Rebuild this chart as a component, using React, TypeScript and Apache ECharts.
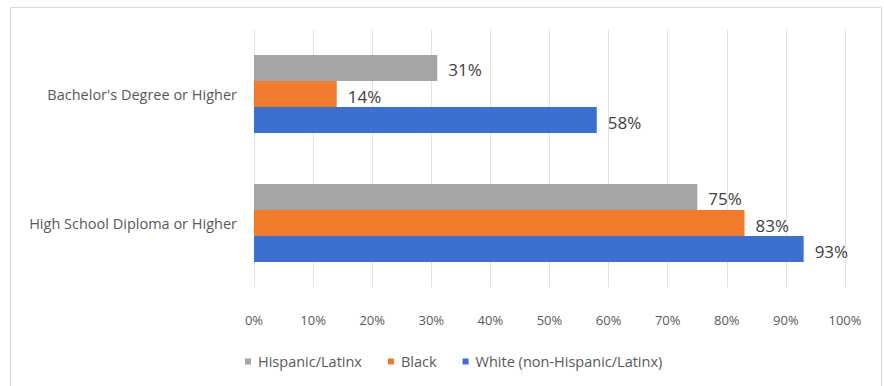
import React, { useEffect, useRef } from "react";
import * as echarts from "echarts";

const categories = ["Bachelor's Degree or Higher", "High School Diploma or Higher"];
const seriesNames = ["Hispanic/Latinx", "Black", "White (non-Hispanic/Latinx)"];
const hispanic = [31, 75];
const black = [14, 83];
const white = [58, 93];
const colors = ["#a5a5a5", "#f07b2b", "#3c6fd2"];
const xTicks = [0, 10, 20, 30, 40, 50, 60, 70, 80, 90, 100];

export default function App() {
  const ref = useRef<HTMLDivElement>(null);
  useEffect(() => {
    document.body.style.margin = "0";
    const chart = echarts.init(ref.current!, null, { renderer: "svg" });
    const values = [hispanic, black, white];
    const font = "'Open Sans', 'Liberation Sans', sans-serif";
    chart.setOption({
      animation: false,
      backgroundColor: "#ffffff",
      textStyle: { fontFamily: font },
      graphic: [
        {
          type: "rect",
          shape: { x: 10.5, y: 7.5, width: 871, height: 390 },
          style: { fill: "none", stroke: "#d9d9d9", lineWidth: 1 },
          silent: true,
        },
      ],
      grid: { left: 254, right: 884 - 845, top: 29.5, height: 258, containLabel: false },
      legend: {
        left: 240,
        top: 349,
        itemWidth: 6,
        itemHeight: 6,
        itemGap: 26,
        icon: "rect",
        textStyle: { color: "#595959", fontSize: 14.5, fontFamily: font, padding: [0, 0, 0, 2] },
        data: seriesNames,
      },
      xAxis: {
        type: "value",
        min: xTicks[0],
        max: xTicks[xTicks.length - 1],
        interval: 10,
        axisLine: { show: false },
        axisTick: { show: false },
        splitLine: { show: true, lineStyle: { color: "#e3e3e3", width: 1 } },
        axisLabel: {
          color: "#595959",
          fontSize: 13,
          margin: 26,
          formatter: (v: number) => `${v}%`,
        },
      },
      yAxis: {
        type: "category",
        data: categories,
        inverse: true,
        axisLine: { show: false },
        axisTick: { show: false },
        axisLabel: { color: "#595959", fontSize: 14.5, margin: 17 },
      },
      series: seriesNames.map((name, i) => ({
        name,
        type: "bar",
        data: values[i],
        barGap: "0%",
        barCategoryGap: "39.5%",
        itemStyle: { color: colors[i] },
        label: {
          show: true,
          position: "right",
          distance: 11,
          offset: [0, 2],
          color: "#404040",
          fontSize: 17,
          formatter: (p: any) => `${p.value}%`,
        },
      })),
    });
    return () => chart.dispose();
  }, []);
  return <div ref={ref} style={{ width: 884, height: 386 }} />;
}
